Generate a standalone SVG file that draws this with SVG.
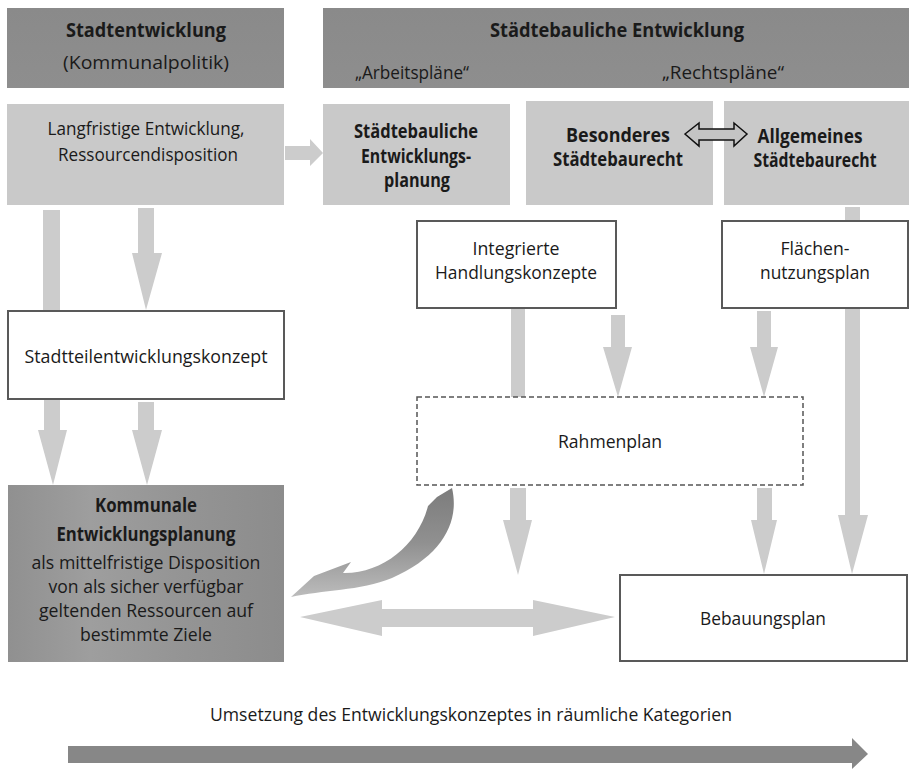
<svg xmlns="http://www.w3.org/2000/svg" width="909" height="769" viewBox="0 0 909 769">
<defs>
<linearGradient id="gK" x1="0" y1="0" x2="1" y2="0">
<stop offset="0" stop-color="#909090"/><stop offset="0.3" stop-color="#9e9e9e"/><stop offset="0.6" stop-color="#959595"/><stop offset="1" stop-color="#8c8c8c"/>
</linearGradient>
<linearGradient id="gC" x1="0" y1="0" x2="0" y2="1">
<stop offset="0" stop-color="#7c7c7c"/><stop offset="0.5" stop-color="#909090"/><stop offset="1" stop-color="#bcbcbc"/>
</linearGradient>
<linearGradient id="gH" x1="0" y1="0" x2="0" y2="1">
<stop offset="0" stop-color="#8a8a8a"/><stop offset="1" stop-color="#8e8e8e"/>
</linearGradient>
</defs>
<style>
text{font-family:"Open Sans","Liberation Sans",sans-serif;font-size:19px;fill:#1a1a1a;text-anchor:middle}
.b{font-weight:bold}
.s{font-size:17.5px}
.hdr{fill:url(#gH)}
.lt{fill:#c9c9c9}
.wb{fill:#ffffff;stroke:#595959;stroke-width:2}
.dash{fill:#ffffff;stroke:#555555;stroke-width:1.5;stroke-dasharray:5 3}
.ar{fill:#cccccc}
</style>
<rect width="909" height="769" fill="#ffffff"/>

<g id="hdr-stadt">
<rect class="hdr" x="7" y="8" width="277" height="80"/>
<text class="b" x="146" y="37" textLength="160" lengthAdjust="spacingAndGlyphs">Stadtentwicklung</text>
<text x="146" y="69" textLength="166" lengthAdjust="spacingAndGlyphs">(Kommunalpolitik)</text>
</g>
<g id="hdr-staedtebau">
<rect class="hdr" x="323" y="8" width="586" height="80"/>
<text class="b" x="617" y="37" textLength="254" lengthAdjust="spacingAndGlyphs">Städtebauliche Entwicklung</text>
<text x="412" y="79" textLength="114" lengthAdjust="spacingAndGlyphs">„Arbeitspläne“</text>
<text x="723" y="79" textLength="122" lengthAdjust="spacingAndGlyphs">„Rechtspläne“</text>
</g>

<g id="langfristig">
<rect class="lt" x="7" y="104" width="277" height="101"/>
<text x="146" y="135" textLength="197" lengthAdjust="spacingAndGlyphs">Langfristige Entwicklung,</text>
<text x="148" y="161" textLength="180" lengthAdjust="spacingAndGlyphs">Ressourcendisposition</text>
</g>
<g id="sep">
<rect class="lt" x="323" y="104" width="187" height="101"/>
<text class="b" x="416" y="138" textLength="124" lengthAdjust="spacingAndGlyphs">Städtebauliche</text>
<text class="b" x="416" y="163" textLength="110" lengthAdjust="spacingAndGlyphs">Entwicklungs-</text>
<text class="b" x="417" y="187" textLength="66" lengthAdjust="spacingAndGlyphs">planung</text>
</g>
<g id="besonderes">
<rect class="lt" x="526" y="101" width="187" height="104"/>
<text class="b" x="618" y="142" textLength="104" lengthAdjust="spacingAndGlyphs">Besonderes</text>
<text class="b" x="618" y="166" textLength="130" lengthAdjust="spacingAndGlyphs">Städtebaurecht</text>
</g>
<g id="allgemeines">
<rect class="lt" x="724" y="101" width="185" height="104"/>
<text class="b" x="810" y="143" textLength="105" lengthAdjust="spacingAndGlyphs">Allgemeines</text>
<text class="b" x="815" y="167" textLength="123" lengthAdjust="spacingAndGlyphs">Städtebaurecht</text>
</g>

<g id="connectors">
<polygon class="ar" points="285,146 310,146 310,139 323,153 310,166 310,160 285,160"/>
<polygon points="685,134 699,123 699,129 734,129 734,123 747,134 734,146 734,140 699,140 699,146" fill="#c4c4c4" stroke="#111111" stroke-width="1.5" stroke-linejoin="miter"/>
<rect class="ar" x="43" y="210" width="17" height="101"/>
<polygon class="ar" points="138,208 154,208 154,253 162,253 146,310 132,253 138,253"/>
<polygon class="ar" points="44,400 60,400 60,430 67,430 53,485 38,430 44,430"/>
<polygon class="ar" points="138,402 154,402 154,430 162,430 147,485 132,430 138,430"/>
<rect class="ar" x="511" y="309" width="14" height="88"/>
<polygon class="ar" points="611,315 625,315 625,347 632,347 618,397 603,347 611,347"/>
<polygon class="ar" points="757,311 771,311 771,347 778,347 764,397 750,347 757,347"/>
<polygon class="ar" points="845,207 860,207 860,515 868,515 852,574 838,515 845,515"/>
<polygon class="ar" points="510,488 526,488 526,520 532,520 518,575 503,520 510,520"/>
<polygon class="ar" points="757,488 772,488 772,520 777,520 764,574 751,520 757,520"/>
<polygon class="ar" points="300,617 382,600 382,609 533,609 533,600 615,617 533,636 533,627 382,627 382,636"/>
<path d="M452,488 C460,522 442,556 392,578 C360,591 322,590 291,597 L314,576 L351,562 L343,573 C382,574 418,545 428,506 L437,497 Z" fill="url(#gC)"/>
<polygon points="68,746 852,746 852,738 868,754 852,769 852,763 68,763" fill="#878787"/>
</g>

<g id="integrierte">
<rect class="wb" x="417" y="221" width="199" height="87"/>
<text x="516" y="255" textLength="87" lengthAdjust="spacingAndGlyphs">Integrierte</text>
<text x="516" y="279" textLength="162" lengthAdjust="spacingAndGlyphs">Handlungskonzepte</text>
</g>
<g id="fnp">
<rect class="wb" x="722" y="221" width="186" height="87"/>
<text x="815" y="255" textLength="69" lengthAdjust="spacingAndGlyphs">Flächen-</text>
<text x="815" y="279" textLength="110" lengthAdjust="spacingAndGlyphs">nutzungsplan</text>
</g>
<g id="stadtteil">
<rect class="wb" x="8" y="311" width="276" height="88"/>
<text x="146" y="363" textLength="243" lengthAdjust="spacingAndGlyphs">Stadtteilentwicklungskonzept</text>
</g>
<g id="rahmenplan">
<rect class="dash" x="417" y="397" width="386" height="88"/>
<text x="610" y="448" textLength="104" lengthAdjust="spacingAndGlyphs">Rahmenplan</text>
</g>
<g id="kommunale">
<rect x="8" y="485" width="276" height="177" fill="url(#gK)"/>
<text class="b" x="146" y="512" textLength="102" lengthAdjust="spacingAndGlyphs">Kommunale</text>
<text class="b" x="146" y="541" textLength="179" lengthAdjust="spacingAndGlyphs">Entwicklungsplanung</text>
<text class="s" x="146" y="569" textLength="229" lengthAdjust="spacingAndGlyphs">als mittelfristige Disposition</text>
<text class="s" x="146" y="593" textLength="195" lengthAdjust="spacingAndGlyphs">von als sicher verfügbar</text>
<text class="s" x="146" y="617" textLength="214" lengthAdjust="spacingAndGlyphs">geltenden Ressourcen auf</text>
<text class="s" x="146" y="641" textLength="132" lengthAdjust="spacingAndGlyphs">bestimmte Ziele</text>
</g>
<g id="bebauungsplan">
<rect class="wb" x="620" y="575" width="287" height="86"/>
<text x="763" y="625" textLength="126" lengthAdjust="spacingAndGlyphs">Bebauungsplan</text>
</g>
<g id="umsetzung">
<text x="471" y="721" textLength="522" lengthAdjust="spacingAndGlyphs">Umsetzung des Entwicklungskonzeptes in räumliche Kategorien</text>
</g>
</svg>
